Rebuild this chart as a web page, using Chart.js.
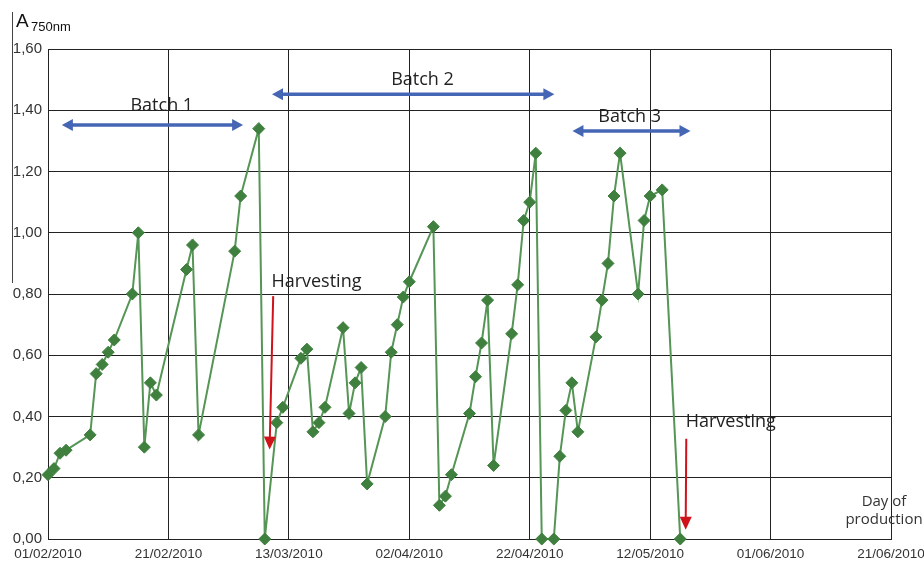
<!DOCTYPE html>
<html>
<head>
<meta charset="utf-8">
<script src="https://cdn.jsdelivr.net/npm/chart.js@4/dist/chart.umd.min.js"></script>
<style>
  body { margin: 0; background: #fff; }
  #wrap { width: 924px; height: 562px; }
</style>
</head>
<body>
<div id="wrap"><canvas id="absorbanceChart" width="924" height="562"></canvas></div>
<script>
// days since 01/02/2010 and the A750nm reading on that day
const days = [0, 1, 2, 3, 7, 8, 9, 10, 11, 14, 15, 16, 17, 18, 23, 24, 25, 31, 32, 35,
  36, 38, 39, 42, 43, 44, 45, 46, 49, 50, 51, 52, 53, 56, 57, 58, 59, 60, 64, 65,
  66, 67, 70, 71, 72, 73, 74, 77, 78, 79, 80, 81, 82, 84, 85, 86, 87, 88, 91, 92,
  93, 94, 95, 98, 99, 100, 102, 105];
const absorbance = [0.21, 0.23, 0.28, 0.29, 0.34, 0.54, 0.57, 0.61, 0.65, 0.80, 1.00, 0.30, 0.51, 0.47, 0.88, 0.96, 0.34, 0.94, 1.12, 1.34,
  0.00, 0.38, 0.43, 0.59, 0.62, 0.35, 0.38, 0.43, 0.69, 0.41, 0.51, 0.56, 0.18, 0.40, 0.61, 0.70, 0.79, 0.84, 1.02, 0.11,
  0.14, 0.21, 0.41, 0.53, 0.64, 0.78, 0.24, 0.67, 0.83, 1.04, 1.10, 1.26, 0.00, 0.00, 0.27, 0.42, 0.51, 0.35, 0.66, 0.78,
  0.90, 1.12, 1.26, 0.80, 1.04, 1.12, 1.14, 0.00];
const dateLabels = ["01/02/2010", "21/02/2010", "13/03/2010", "02/04/2010",
  "22/04/2010", "12/05/2010", "01/06/2010", "21/06/2010"];

// batch spans (day from, day to) and harvest days
const batches = [
  { label: "Batch 1", from: 2.3, to: 32.4, level: 1.352, textX: 18.9, textY: 1.413 },
  { label: "Batch 2", from: 37.2, to: 84.1, level: 1.452, textX: 62.2, textY: 1.499 },
  { label: "Batch 3", from: 87.1, to: 106.7, level: 1.332, textX: 96.6, textY: 1.38 },
];
const harvests = [
  { textX: 37.1, textY: 0.838, x1: 37.4, y1: 0.793, x2: 36.8, y2: 0.292 },
  { textX: 105.9, textY: 0.384, x1: 106.0, y1: 0.327, x2: 105.9, y2: 0.03 },
];

const points = days.map((d, i) => ({ x: d, y: absorbance[i] }));

function arrowHead(ctx, x, y, angle, len, half) {
  ctx.beginPath();
  ctx.moveTo(x, y);
  ctx.lineTo(x - len * Math.cos(angle) + half * Math.sin(angle), y - len * Math.sin(angle) - half * Math.cos(angle));
  ctx.lineTo(x - len * Math.cos(angle) - half * Math.sin(angle), y - len * Math.sin(angle) + half * Math.cos(angle));
  ctx.closePath();
  ctx.fill();
}

const notes = {
  id: "notes",
  afterDatasetsDraw(chart) {
    const ctx = chart.ctx;
    const sx = chart.scales.x, sy = chart.scales.y;
    const px = (v) => sx.getPixelForValue(v);
    const py = (v) => sy.getPixelForValue(v);
    ctx.save();

    // batch arrows
    batches.forEach((b) => {
      const x1 = px(b.from), x2 = px(b.to), y = py(b.level);
      ctx.strokeStyle = "#4565b5";
      ctx.fillStyle = "#4565b5";
      ctx.lineWidth = 3.5;
      ctx.beginPath();
      ctx.moveTo(x1 + 8, y);
      ctx.lineTo(x2 - 8, y);
      ctx.stroke();
      arrowHead(ctx, x1, y, Math.PI, 11, 6);
      arrowHead(ctx, x2, y, 0, 11, 6);
      ctx.fillStyle = "#222";
      ctx.font = "18px 'Open Sans'";
      ctx.textAlign = "center";
      ctx.textBaseline = "middle";
      ctx.fillText(b.label, px(b.textX), py(b.textY));
    });

    // harvesting arrows
    harvests.forEach((h) => {
      ctx.fillStyle = "#222";
      ctx.font = "18px 'Open Sans'";
      ctx.textAlign = "left";
      ctx.textBaseline = "middle";
      ctx.fillText("Harvesting", px(h.textX), py(h.textY));
      const x1 = px(h.x1), y1 = py(h.y1), x2 = px(h.x2), y2 = py(h.y2);
      const ang = Math.atan2(y2 - y1, x2 - x1);
      ctx.strokeStyle = "#d0121b";
      ctx.fillStyle = "#d0121b";
      ctx.lineWidth = 2;
      ctx.beginPath();
      ctx.moveTo(x1, y1);
      ctx.lineTo(x2 - 10 * Math.cos(ang), y2 - 10 * Math.sin(ang));
      ctx.stroke();
      arrowHead(ctx, x2, y2, ang, 13, 6);
    });

    // axis titles
    ctx.fillStyle = "#333";
    ctx.font = "15px 'Open Sans'";
    ctx.textAlign = "center";
    ctx.textBaseline = "middle";
    ctx.fillText("Day of", 884, 502);
    ctx.fillText("production", 884, 520);

    ctx.fillStyle = "#111";
    ctx.textAlign = "left";
    ctx.textBaseline = "alphabetic";
    ctx.font = "19px 'Liberation Sans'";
    ctx.fillText("A", 16, 27);
    ctx.font = "13px 'Liberation Sans'";
    ctx.fillText("750nm", 31, 31);

    ctx.strokeStyle = "#444";
    ctx.lineWidth = 1;
    ctx.beginPath();
    ctx.moveTo(12.5, 12);
    ctx.lineTo(12.5, 283);
    ctx.stroke();
    ctx.restore();
  },
};

new Chart(document.getElementById("absorbanceChart"), {
  type: "line",
  data: {
    datasets: [
      {
        data: points,
        borderColor: "#559555",
        borderWidth: 2,
        tension: 0,
        pointStyle: "rectRot",
        pointRadius: 6,
        pointBackgroundColor: "#3f803f",
        pointBorderColor: "#3f803f",
        pointBorderWidth: 1,
        clip: false,
      },
    ],
  },
  options: {
    responsive: false,
    animation: false,
    layout: { padding: { top: 49, right: 33, left: 0, bottom: 0 } },
    plugins: { legend: { display: false }, tooltip: { enabled: false } },
    scales: {
      x: {
        type: "linear",
        min: 0,
        max: 140,
        afterFit: (s) => { s.height = 23; s.paddingLeft = 0; s.paddingRight = 0; },
        grid: { color: "#222", drawTicks: false },
        border: { color: "#222" },
        ticks: {
          stepSize: 20,
          padding: 7,
          maxRotation: 0,
          color: "#333",
          font: { family: "'Liberation Sans'", size: 13.5 },
          callback: (v) => dateLabels[Math.round(v / 20)],
        },
      },
      y: {
        min: 0,
        max: 1.6,
        afterFit: (s) => { s.width = 48; s.paddingTop = 0; s.paddingBottom = 0; },
        grid: { color: "#222", drawTicks: false },
        border: { color: "#222" },
        ticks: {
          stepSize: 0.2,
          padding: 6,
          color: "#333",
          font: { family: "'Liberation Sans'", size: 15 },
          callback: (v) => v.toFixed(2).replace(".", ","),
        },
      },
    },
  },
  plugins: [notes],
});
</script>
</body>
</html>
